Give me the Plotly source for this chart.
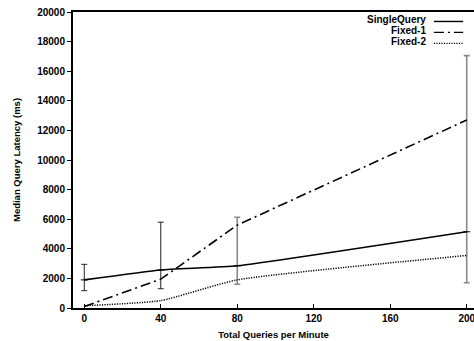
import plotly.graph_objects as go

# ---- data ----
queries_per_min = [0, 40, 80, 200]
single_query = [1900, 2570, 2850, 5150]
single_err_hi = [2950, 5800, 6130, 17050]
single_err_lo = [1170, 1300, 1600, 1710]
fixed_1 = [100, 1950, 5600, 12700]
fixed_2 = [150, 500, 1900, 3550]
x_ticks = [0, 40, 80, 120, 160, 200]
y_ticks = list(range(0, 20001, 2000))
series_names = ["SingleQuery", "Fixed-1", "Fixed-2"]

FONT = "Liberation Sans, Arial, sans-serif"
DASHDOT = "10px,4px,2px,4px"
DOT = "1.2px,1.3px"

fig = go.Figure()

# error bars (split into dark and grey groups as in the reference)
groups = [([0, 1], "#222222", 1.0), ([2, 3], "#8a8a8a", 1.6)]
for idx, col, th in groups:
    xs = [queries_per_min[i] for i in idx]
    ys = [single_query[i] for i in idx]
    plus = [single_err_hi[i] - single_query[i] for i in idx]
    minus = [single_query[i] - single_err_lo[i] for i in idx]
    fig.add_trace(go.Scatter(
        x=xs, y=ys, mode="markers", marker=dict(size=1, color="rgba(0,0,0,0)"),
        error_y=dict(type="data", symmetric=False, array=plus, arrayminus=minus,
                     color=col, thickness=th, width=3),
        cliponaxis=False, showlegend=False, hoverinfo="skip"))

fig.add_trace(go.Scatter(x=queries_per_min, y=fixed_2, mode="lines",
                         line=dict(color="black", width=1.5, dash=DOT, shape="spline", smoothing=0.5),
                         name=series_names[2], showlegend=False))
fig.add_trace(go.Scatter(x=queries_per_min, y=fixed_1, mode="lines",
                         line=dict(color="black", width=1.6, dash=DASHDOT),
                         name=series_names[1], showlegend=False))
fig.add_trace(go.Scatter(x=queries_per_min, y=single_query, mode="lines+markers",
                         line=dict(color="black", width=1.6, shape="spline", smoothing=0.4),
                         marker=dict(symbol="line-ew", size=5, line=dict(color="black", width=1)),
                         name=series_names[0], showlegend=False))

# manual legend (text right-aligned, sample on the right)
legend_rows = [(series_names[0], "solid", 0.973), (series_names[1], DASHDOT, 0.936),
               (series_names[2], DOT, 0.899)]
for name, dash, yy in legend_rows:
    fig.add_annotation(text=name, x=0.885, y=yy, xref="paper", yref="paper",
                       xanchor="right", yanchor="middle", showarrow=False,
                       font=dict(family=FONT, size=10, color="black", weight="bold"))
    fig.add_shape(type="line", xref="paper", yref="paper", x0=0.900, x1=0.973, y0=yy - 0.005, y1=yy - 0.005,
                  line=dict(color="black", width=1.4, dash=dash))

axis_font = dict(family=FONT, size=10, color="black", weight="bold")
fig.update_layout(
    width=474, height=341,
    margin=dict(l=73, r=0, t=12, b=33, autoexpand=False),
    plot_bgcolor="white", paper_bgcolor="white",
    xaxis=dict(range=[-5.9, 203.8], tickvals=x_ticks, ticks="inside", ticklen=4,
               tickcolor="black", showgrid=False, zeroline=False,
               showline=True, linecolor="black", linewidth=2, mirror=True,
               tickfont=axis_font, automargin=False, ticklabeloverflow="allow",
               title=dict(text="Total Queries per Minute", font=dict(family=FONT, size=9.5, color="black", weight="bold"), standoff=8)),
    yaxis=dict(range=[0, 20000], tickvals=y_ticks, tickformat="d", ticks="outside", ticklen=4,
               tickcolor="black", showgrid=False, zeroline=False,
               showline=True, linecolor="black", linewidth=2,
               tickfont=axis_font, automargin=False,
               title=dict(text="Median Query Latency (ms)", font=dict(family=FONT, size=9.5, color="black", weight="bold"), standoff=15)),
)

fig.write_html("out.html", config={"displayModeBar": False},
               post_script="document.body.style.margin='0';")
